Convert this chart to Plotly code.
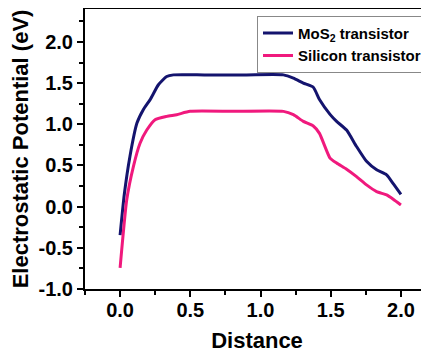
import plotly.graph_objects as go

mos2_x = [0.0, 0.03, 0.07, 0.12, 0.166, 0.214, 0.273, 0.332, 0.38, 0.6, 0.9, 1.163, 1.234, 1.305, 1.376, 1.42, 1.495, 1.542, 1.613, 1.684, 1.755, 1.827, 1.898, 1.945, 2.0]
mos2_y = [-0.345, 0.15, 0.61, 1.015, 1.18, 1.30, 1.48, 1.58, 1.60, 1.60, 1.60, 1.60, 1.56, 1.50, 1.45, 1.30, 1.12, 1.035, 0.93, 0.73, 0.55, 0.447, 0.386, 0.28, 0.15]

si_x = [0.0, 0.047, 0.095, 0.142, 0.19, 0.249, 0.332, 0.403, 0.498, 0.8, 1.163, 1.234, 1.305, 1.376, 1.42, 1.495, 1.542, 1.613, 1.684, 1.755, 1.827, 1.898, 1.945, 2.0]
si_y = [-0.743, 0.08, 0.49, 0.77, 0.93, 1.056, 1.096, 1.117, 1.157, 1.157, 1.157, 1.117, 1.035, 0.98, 0.89, 0.59, 0.53, 0.455, 0.365, 0.264, 0.183, 0.142, 0.09, 0.02]

x_ticks = [0.0, 0.5, 1.0, 1.5, 2.0]
y_ticks = [-1.0, -0.5, 0.0, 0.5, 1.0, 1.5, 2.0]

fig = go.Figure()
fig.add_trace(go.Scatter(x=mos2_x, y=mos2_y, mode="lines", name="MoS<sub>2</sub> transistor",
                         line=dict(color="#14146e", width=3, shape="spline", smoothing=0.5)))
fig.add_trace(go.Scatter(x=si_x, y=si_y, mode="lines", name="Silicon transistor",
                         line=dict(color="#f0197d", width=3, shape="spline", smoothing=0.5)))

font_family = "Liberation Sans, Arial, sans-serif"
fig.update_layout(
    width=421, height=345,
    margin=dict(l=77, r=0, t=1, b=64, autoexpand=False),
    paper_bgcolor="white", plot_bgcolor="white",
    font=dict(family=font_family, color="black"),
    showlegend=True,
    legend=dict(x=0.5, y=0.976, xanchor="left", yanchor="top",
                bgcolor="white", bordercolor="#888888", borderwidth=1,
                font=dict(size=15, family=font_family, weight="bold"),
                tracegroupgap=0, itemwidth=30),
)
fig.update_xaxes(
    range=[-0.25, 2.2], tickvals=x_ticks, ticktext=[f"{v:.1f}" for v in x_ticks],
    showline=True, linecolor="black", linewidth=2, mirror=True,
    ticks="outside", ticklen=6, tickwidth=2, tickcolor="black",
    minor=dict(tickvals=[-0.25, 0.25, 0.75, 1.25, 1.75], ticks="outside", ticklen=4, tickwidth=1.5, tickcolor="black"),
    showgrid=False, zeroline=False, automargin=False,
    ticklabelstandoff=-4,
    tickfont=dict(size=20, family=font_family, weight="bold"),
    title=dict(text="Distance", font=dict(size=22, family=font_family, weight="bold"), standoff=18),
)
fig.update_yaxes(
    range=[-1.0, 2.4], tickvals=y_ticks, ticktext=[f"{v:.1f}" for v in y_ticks],
    showline=True, linecolor="black", linewidth=2,
    ticks="outside", ticklen=6, tickwidth=2, tickcolor="black",
    minor=dict(tickvals=[-0.75, -0.25, 0.25, 0.75, 1.25, 1.75, 2.25], ticks="outside", ticklen=4, tickwidth=1.5, tickcolor="black"),
    showgrid=False, zeroline=False, automargin=False,
    tickfont=dict(size=20, family=font_family, weight="bold"),
    title=dict(text="Electrostatic Potential (eV)", font=dict(size=22, family=font_family, weight="bold"), standoff=8),
)
fig.write_html("out.html")
